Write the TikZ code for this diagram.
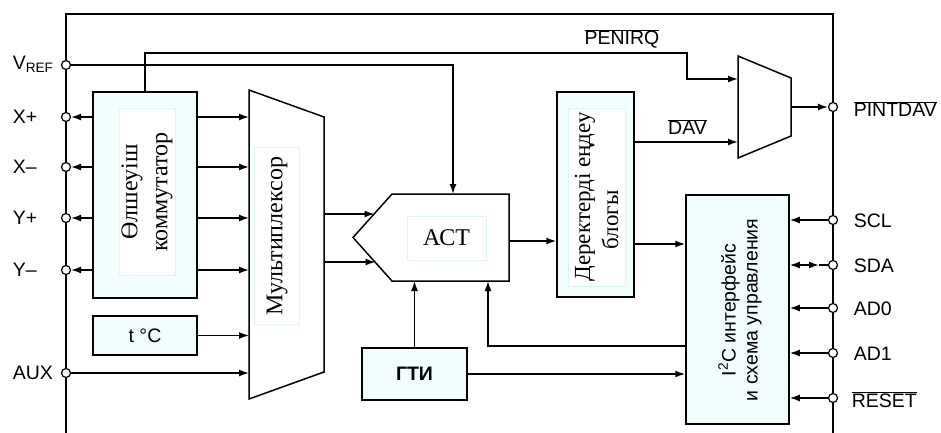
\documentclass[tikz,border=0pt]{standalone}
\usepackage{fontspec}
\setmainfont{Liberation Serif}
\setsansfont{Liberation Sans}
\usetikzlibrary{arrows.meta}
\definecolor{boxfill}{HTML}{F2FDFD}
\definecolor{txtedge}{HTML}{DDF6F3}

\begin{document}
\begin{tikzpicture}[x=1pt,y=-1pt,line width=1.5pt,
    every node/.style={font=\sffamily\fontsize{19.5}{22}\selectfont},
    blk/.style={draw,fill=boxfill,inner sep=0pt},
    txtbox/.style={fill=white,draw=txtedge,line width=.6pt,inner sep=0pt,align=center,
      font=\rmfamily\fontsize{24}{30}\selectfont},
    lbl/.style={txtbox,rotate=90},
    pin/.style={circle,draw,fill=white,inner sep=0pt,minimum size=9pt,line width=1.2pt},
    pinlbl/.style={inner sep=0pt},
    arr/.style={-{Latex[length=10pt,width=7pt]}}]
  \useasboundingbox (0,0) rectangle (941,433);
  \draw (66,433) -- (66,14) -- (833,14) -- (833,433);

  \node[blk,minimum width=104pt,minimum height=206pt] (comm) at (145,195) {};
  \node[lbl,minimum width=167pt,minimum height=56pt] (commt) at (147,192) {Өлшеуіш\\коммутатор};
  \node[blk,minimum width=104pt,minimum height=39pt] (temp) at (145,335.5) {t °C};

  \draw[fill=white] (249,90) coordinate (m1a) -- (324,117) -- (324,372) coordinate (m1c)
    -- (249,399) -- cycle;
  \node[lbl,minimum width=177pt,minimum height=45pt] (muxt) at (277,236) {Мультиплексор};

  \draw[fill=white] (392,194) -- (509,194) -- (509,281) -- (392,281) -- (353,237.5) -- cycle;
  \node[txtbox,minimum width=79pt,minimum height=44pt] (actt) at (446.5,238) {АСТ};
  \coordinate (acti1) at (374.5,214);
  \coordinate (acti2) at (375.5,262);
  \coordinate (actv) at (453,194);
  \coordinate (acto) at (509,241);
  \coordinate (actb1) at (414.5,281);
  \coordinate (actb2) at (488,281);

  \node[blk,minimum width=77pt,minimum height=205pt] (det) at (595.5,194.5) {};
  \node[lbl,minimum width=178pt,minimum height=57pt,font=\rmfamily\fontsize{23}{28}\selectfont]
    (dett) at (596.5,197) {Деректерді еңдеу\\блогы\hspace*{46pt}};

  \draw[fill=white] (738,56) coordinate (m2a) -- (791,78) -- (791,136) coordinate (m2c)
    -- (738,158) -- cycle;
  \coordinate (m2i1) at (738,79);
  \coordinate (m2i2) at (738,142);
  \coordinate (m2o) at (791,107);
  \coordinate (pq) at (687,53);

  \node[blk,minimum width=103pt,minimum height=229pt] (i2c) at (737.5,309.5) {};
  \node[rotate=90,align=center,inner sep=0pt] (i2ct) at (740,310)
    {I\textsuperscript{2}C интерфейс\\и схема управления};
  \node[blk,minimum width=105pt,minimum height=52pt,font=\sffamily\bfseries\fontsize{19.5}{22}\selectfont]
    (gti) at (414.5,374) {ГТИ};
  \coordinate (dl) at (634,244);
  \coordinate (fb) at (686,346);

  \node[pin] (vref) at (66,65) {};
  \node[pin] (xp) at (66,117) {};
  \node[pin] (xm) at (66,167) {};
  \node[pin] (yp) at (66,218) {};
  \node[pin] (ym) at (66,270) {};
  \node[pin] (aux) at (66,373) {};
  \node[pin] (pint) at (833,107) {};
  \node[pin] (scl) at (833,220) {};
  \node[pin] (sda) at (833,265) {};
  \node[pin] (ad0) at (833,308) {};
  \node[pin] (ad1) at (833,353) {};
  \node[pin] (rst) at (833,398) {};

  \node[pinlbl,anchor=west] (vrefl) at (12,64) {V\textsubscript{REF}};
  \node[pinlbl,anchor=west] (xpl) at (12,117) {X+};
  \node[pinlbl,anchor=west] (xml) at (12,167) {X–};
  \node[pinlbl,anchor=west] (ypl) at (12,218) {Y+};
  \node[pinlbl,anchor=west] (yml) at (12,270) {Y–};
  \node[pinlbl,anchor=west] (auxl) at (12,373) {AUX};
  \node[pinlbl,anchor=base west] (pintl) at (853,117) {$\overline{\mbox{PINTDAV}}$};
  \node[pinlbl,anchor=west] (scll) at (853,221) {SCL};
  \node[pinlbl,anchor=west] (sdal) at (853,266) {SDA};
  \node[pinlbl,anchor=west] (ad0l) at (853,309) {AD0};
  \node[pinlbl,anchor=west] (ad1l) at (853,354) {AD1};
  \node[pinlbl,anchor=base west] (rstl) at (851,407) {$\overline{\mbox{RESET}}$};
  \node[pinlbl,anchor=base] (penirq) at (622,45) {$\overline{\mbox{PENIRQ}}$};
  \node[pinlbl,anchor=base] (dav) at (687.5,135) {$\overline{\mbox{DAV}}$};

  \draw[arr] (comm.west |- xp) -- (xp);
  \draw[arr] (comm.west |- xm) -- (xm);
  \draw[arr] (comm.west |- yp) -- (yp);
  \draw[arr] (comm.west |- ym) -- (ym);
  \draw[arr] (comm.east |- xp) -- (m1a |- xp);
  \draw[arr] (comm.east |- xm) -- (m1a |- xm);
  \draw[arr] (comm.east |- yp) -- (m1a |- yp);
  \draw[arr] (comm.east |- ym) -- (m1a |- ym);
  \draw[arr] (temp.east) -- (m1a |- temp.east);
  \draw[arr] (aux) -- (m1a |- aux);
  \draw[arr] (m1c |- acti1) -- (acti1);
  \draw[arr] (m1c |- acti2) -- (acti2);
  \draw[arr] (vref) -| (actv);
  \draw[arr] (comm.north) |- (pq) |- (m2i1);
  \draw[arr] (acto) -- (det.west |- acto);
  \draw[arr] (det.east |- m2i2) -- (m2i2);
  \draw[arr] (m2o) -- (pint);
  \draw[arr] (dl) -- (i2c.west |- dl);
  \draw[arr] (gti.north) -- (actb1);
  \draw[arr] (i2c.west |- fb) -| (actb2);
  \draw[arr] (gti.east) -- (i2c.west |- gti.east);
  \draw[arr] (scl) -- (i2c.east |- scl);
  \draw[{Latex[length=10pt,width=7pt]}-{Latex[length=10pt,width=7pt]}]
    (i2c.east |- sda) -- ([xshift=-14pt]sda.center);
  \draw ([xshift=-14pt]sda.center) -- (sda);
  \draw[arr] (ad0) -- (i2c.east |- ad0);
  \draw[arr] (ad1) -- (i2c.east |- ad1);
  \draw[arr] (rst) -- (i2c.east |- rst);
\end{tikzpicture}
\end{document}
